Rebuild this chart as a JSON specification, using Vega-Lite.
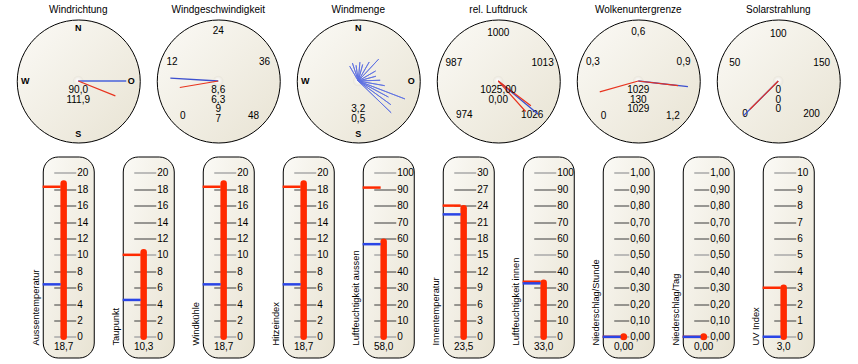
{
"$schema":"https://vega.github.io/schema/vega-lite/v6.json",
"background":"white",
"padding":{"left":15.5,"top":3.5,"right":19.5,"bottom":5},
"spacing":12,"center":true,
"vconcat":[
{"hconcat":[
{"title":"Windrichtung","width":123,"height":123,
 "view":{"cornerRadius":61.5,"stroke":"black","strokeWidth":1,"fill":{"gradient":"linear","x1":0,"y1":0,"x2":1,"y2":1,"stops":[{"offset":0,"color":"#fbfaf6"},{"offset":1,"color":"#e8e3d3"}]}},
 "layer":[
  {"data":{"name":"dials"},"transform":[{"filter":"datum.gauge == 'Windrichtung'"}],
   "mark":{"type":"circle","size":110,"opacity":1,"fill":{"gradient":"radial","x1":0.45,"y1":0.45,"r1":0,"x2":0.5,"y2":0.5,"r2":0.5,"stops":[{"offset":0,"color":"#ffffff"},{"offset":1,"color":"#e9e5da"}]},"strokeWidth":0}},
  {"data":{"name":"scale"},"transform":[{"filter":"datum.gauge == 'Windrichtung'"}],
   "mark":{"type":"text","radius":53,"fontSize":9,"fontWeight":"bold"},
   "encoding":{"theta":{"field":"v","type":"quantitative","stack":null,"scale":{"domain":[0,360],"range":[0,6.28319]}},"text":{"field":"label","type":"nominal"}}},
  {"data":{"name":"needles"},"transform":[{"filter":"datum.gauge == 'Windrichtung' && datum.kind == 'aktuell'"}],
   "mark":{"type":"arc","radius":48,"radius2":0,"filled":false,"stroke":"#4a63dc","strokeWidth":1.6},
   "encoding":{"theta":{"field":"value","type":"quantitative","stack":null,"scale":{"domain":[0,360],"range":[0,6.28319]}},"theta2":{"field":"value"}}},
  {"data":{"name":"needles"},"transform":[{"filter":"datum.gauge == 'Windrichtung' && datum.kind == 'mittel'"}],
   "mark":{"type":"arc","radius":40,"radius2":0,"filled":false,"stroke":"#e8331e","strokeWidth":1.2},
   "encoding":{"theta":{"field":"value","type":"quantitative","stack":null,"scale":{"domain":[0,360],"range":[0,6.28319]}},"theta2":{"field":"value"}}},
  {"data":{"name":"readouts"},"transform":[{"filter":"datum.gauge == 'Windrichtung'"}],
   "mark":{"type":"text","fontSize":10},
   "encoding":{"y":{"field":"line","type":"quantitative","scale":{"domain":[-6.27,6.41],"reverse":true,"nice":false,"zero":false},"axis":null},"text":{"field":"text","type":"nominal"}}}
 ]},
{"title":"Windgeschwindigkeit","width":123,"height":123,
 "view":{"cornerRadius":61.5,"stroke":"black","strokeWidth":1,"fill":{"gradient":"linear","x1":0,"y1":0,"x2":1,"y2":1,"stops":[{"offset":0,"color":"#fbfaf6"},{"offset":1,"color":"#e8e3d3"}]}},
 "layer":[
  {"data":{"name":"dials"},"transform":[{"filter":"datum.gauge == 'Windgeschwindigkeit'"}],
   "mark":{"type":"circle","size":110,"opacity":1,"fill":{"gradient":"radial","x1":0.45,"y1":0.45,"r1":0,"x2":0.5,"y2":0.5,"r2":0.5,"stops":[{"offset":0,"color":"#ffffff"},{"offset":1,"color":"#e9e5da"}]},"strokeWidth":0}},
  {"data":{"name":"scale"},"transform":[{"filter":"datum.gauge == 'Windgeschwindigkeit'"}],
   "mark":{"type":"text","radius":50,"fontSize":10},
   "encoding":{"theta":{"field":"v","type":"quantitative","stack":null,"scale":{"domain":[0,48],"range":[-2.35619,2.35619]}},"text":{"field":"label","type":"nominal"}}},
  {"data":{"name":"needles"},"transform":[{"filter":"datum.gauge == 'Windgeschwindigkeit' && datum.kind == 'aktuell'"}],
   "mark":{"type":"arc","radius":48,"radius2":0,"filled":false,"stroke":"#3d50cf","strokeWidth":1.3},
   "encoding":{"theta":{"field":"value","type":"quantitative","stack":null,"scale":{"domain":[0,48],"range":[-2.35619,2.35619]}},"theta2":{"field":"value"}}},
  {"data":{"name":"needles"},"transform":[{"filter":"datum.gauge == 'Windgeschwindigkeit' && datum.kind == 'mittel'"}],
   "mark":{"type":"arc","radius":39,"radius2":0,"filled":false,"stroke":"#e8331e","strokeWidth":1.2},
   "encoding":{"theta":{"field":"value","type":"quantitative","stack":null,"scale":{"domain":[0,48],"range":[-2.35619,2.35619]}},"theta2":{"field":"value"}}},
  {"data":{"name":"readouts"},"transform":[{"filter":"datum.gauge == 'Windgeschwindigkeit'"}],
   "mark":{"type":"text","fontSize":10},
   "encoding":{"y":{"field":"line","type":"quantitative","scale":{"domain":[-6.27,6.41],"reverse":true,"nice":false,"zero":false},"axis":null},"text":{"field":"text","type":"nominal"}}}
 ]},
{"title":"Windmenge","width":123,"height":123,
 "view":{"cornerRadius":61.5,"stroke":"black","strokeWidth":1,"fill":{"gradient":"linear","x1":0,"y1":0,"x2":1,"y2":1,"stops":[{"offset":0,"color":"#fbfaf6"},{"offset":1,"color":"#e8e3d3"}]}},
 "layer":[
  {"data":{"name":"dials"},"transform":[{"filter":"datum.gauge == 'Windmenge'"}],
   "mark":{"type":"circle","size":110,"opacity":1,"fill":{"gradient":"radial","x1":0.45,"y1":0.45,"r1":0,"x2":0.5,"y2":0.5,"r2":0.5,"stops":[{"offset":0,"color":"#ffffff"},{"offset":1,"color":"#e9e5da"}]},"strokeWidth":0}},
  {"data":{"name":"scale"},"transform":[{"filter":"datum.gauge == 'Windmenge'"}],
   "mark":{"type":"text","radius":53,"fontSize":9,"fontWeight":"bold"},
   "encoding":{"theta":{"field":"v","type":"quantitative","stack":null,"scale":{"domain":[0,360],"range":[0,6.28319]}},"text":{"field":"label","type":"nominal"}}},
  {"data":{"name":"windrose"},
   "mark":{"type":"arc","radius2":0,"filled":false,"stroke":"#5d70e2","strokeWidth":1,"strokeOpacity":0.85},
   "encoding":{"theta":{"field":"dir","type":"quantitative","stack":null,"scale":{"domain":[0,360],"range":[0,6.28319]}},"theta2":{"field":"dir"},"radius":{"field":"amount","type":"quantitative","scale":{"type":"linear","domain":[0,100],"range":[0,61],"zero":true}}}},
  {"data":{"name":"readouts"},"transform":[{"filter":"datum.gauge == 'Windmenge'"}],
   "mark":{"type":"text","fontSize":10},
   "encoding":{"y":{"field":"line","type":"quantitative","scale":{"domain":[-6.27,6.41],"reverse":true,"nice":false,"zero":false},"axis":null},"text":{"field":"text","type":"nominal"}}}
 ]},
{"title":"rel. Luftdruck","width":123,"height":123,
 "view":{"cornerRadius":61.5,"stroke":"black","strokeWidth":1,"fill":{"gradient":"linear","x1":0,"y1":0,"x2":1,"y2":1,"stops":[{"offset":0,"color":"#fbfaf6"},{"offset":1,"color":"#e8e3d3"}]}},
 "layer":[
  {"data":{"name":"dials"},"transform":[{"filter":"datum.gauge == 'rel. Luftdruck'"}],
   "mark":{"type":"circle","size":110,"opacity":1,"fill":{"gradient":"radial","x1":0.45,"y1":0.45,"r1":0,"x2":0.5,"y2":0.5,"r2":0.5,"stops":[{"offset":0,"color":"#ffffff"},{"offset":1,"color":"#e9e5da"}]},"strokeWidth":0}},
  {"data":{"name":"scale"},"transform":[{"filter":"datum.gauge == 'rel. Luftdruck'"}],
   "mark":{"type":"text","radius":48,"fontSize":10},
   "encoding":{"theta":{"field":"v","type":"quantitative","stack":null,"scale":{"domain":[974,1026],"range":[-2.35619,2.35619]}},"text":{"field":"label","type":"nominal"}}},
  {"data":{"name":"needles"},"transform":[{"filter":"datum.gauge == 'rel. Luftdruck' && datum.kind == 'aktuell'"}],
   "mark":{"type":"arc","radius":52,"radius2":0,"filled":false,"stroke":"#3d50cf","strokeWidth":1.3},
   "encoding":{"theta":{"field":"value","type":"quantitative","stack":null,"scale":{"domain":[974,1026],"range":[-2.35619,2.35619]}},"theta2":{"field":"value"}}},
  {"data":{"name":"needles"},"transform":[{"filter":"datum.gauge == 'rel. Luftdruck' && datum.kind == 'mittel'"}],
   "mark":{"type":"arc","radius":41,"radius2":0,"filled":false,"stroke":"#e8331e","strokeWidth":1.2},
   "encoding":{"theta":{"field":"value","type":"quantitative","stack":null,"scale":{"domain":[974,1026],"range":[-2.35619,2.35619]}},"theta2":{"field":"value"}}},
  {"data":{"name":"readouts"},"transform":[{"filter":"datum.gauge == 'rel. Luftdruck'"}],
   "mark":{"type":"text","fontSize":10},
   "encoding":{"y":{"field":"line","type":"quantitative","scale":{"domain":[-6.27,6.41],"reverse":true,"nice":false,"zero":false},"axis":null},"text":{"field":"text","type":"nominal"}}}
 ]},
{"title":"Wolkenuntergrenze","width":123,"height":123,
 "view":{"cornerRadius":61.5,"stroke":"black","strokeWidth":1,"fill":{"gradient":"linear","x1":0,"y1":0,"x2":1,"y2":1,"stops":[{"offset":0,"color":"#fbfaf6"},{"offset":1,"color":"#e8e3d3"}]}},
 "layer":[
  {"data":{"name":"dials"},"transform":[{"filter":"datum.gauge == 'Wolkenuntergrenze'"}],
   "mark":{"type":"circle","size":110,"opacity":1,"fill":{"gradient":"radial","x1":0.45,"y1":0.45,"r1":0,"x2":0.5,"y2":0.5,"r2":0.5,"stops":[{"offset":0,"color":"#ffffff"},{"offset":1,"color":"#e9e5da"}]},"strokeWidth":0}},
  {"data":{"name":"scale"},"transform":[{"filter":"datum.gauge == 'Wolkenuntergrenze'"}],
   "mark":{"type":"text","radius":49,"fontSize":10},
   "encoding":{"theta":{"field":"v","type":"quantitative","stack":null,"scale":{"domain":[0,1.2],"range":[-2.35619,2.35619]}},"text":{"field":"label","type":"nominal"}}},
  {"data":{"name":"needles"},"transform":[{"filter":"datum.gauge == 'Wolkenuntergrenze' && datum.kind == 'aktuell'"}],
   "mark":{"type":"arc","radius":50,"radius2":0,"filled":false,"stroke":"#3d50cf","strokeWidth":1.3},
   "encoding":{"theta":{"field":"value","type":"quantitative","stack":null,"scale":{"domain":[0,1.2],"range":[-2.35619,2.35619]}},"theta2":{"field":"value"}}},
  {"data":{"name":"needles"},"transform":[{"filter":"datum.gauge == 'Wolkenuntergrenze' && datum.kind == 'mittel'"}],
   "mark":{"type":"arc","radius":40,"radius2":0,"filled":false,"stroke":"#e8331e","strokeWidth":1.2},
   "encoding":{"theta":{"field":"value","type":"quantitative","stack":null,"scale":{"domain":[0,1.2],"range":[-2.35619,2.35619]}},"theta2":{"field":"value"}}},
  {"data":{"name":"readouts"},"transform":[{"filter":"datum.gauge == 'Wolkenuntergrenze'"}],
   "mark":{"type":"text","fontSize":10},
   "encoding":{"y":{"field":"line","type":"quantitative","scale":{"domain":[-6.27,6.41],"reverse":true,"nice":false,"zero":false},"axis":null},"text":{"field":"text","type":"nominal"}}}
 ]},
{"title":"Solarstrahlung","width":123,"height":123,
 "view":{"cornerRadius":61.5,"stroke":"black","strokeWidth":1,"fill":{"gradient":"linear","x1":0,"y1":0,"x2":1,"y2":1,"stops":[{"offset":0,"color":"#fbfaf6"},{"offset":1,"color":"#e8e3d3"}]}},
 "layer":[
  {"data":{"name":"dials"},"transform":[{"filter":"datum.gauge == 'Solarstrahlung'"}],
   "mark":{"type":"circle","size":110,"opacity":1,"fill":{"gradient":"radial","x1":0.45,"y1":0.45,"r1":0,"x2":0.5,"y2":0.5,"r2":0.5,"stops":[{"offset":0,"color":"#ffffff"},{"offset":1,"color":"#e9e5da"}]},"strokeWidth":0}},
  {"data":{"name":"scale"},"transform":[{"filter":"datum.gauge == 'Solarstrahlung'"}],
   "mark":{"type":"text","radius":47,"fontSize":10},
   "encoding":{"theta":{"field":"v","type":"quantitative","stack":null,"scale":{"domain":[0,200],"range":[-2.35619,2.35619]}},"text":{"field":"label","type":"nominal"}}},
  {"data":{"name":"needles"},"transform":[{"filter":"datum.gauge == 'Solarstrahlung' && datum.kind == 'aktuell'"}],
   "mark":{"type":"arc","radius":49,"radius2":0,"filled":false,"stroke":"#3d50cf","strokeWidth":1.3},
   "encoding":{"theta":{"field":"value","type":"quantitative","stack":null,"scale":{"domain":[0,200],"range":[-2.35619,2.35619]}},"theta2":{"field":"value"}}},
  {"data":{"name":"needles"},"transform":[{"filter":"datum.gauge == 'Solarstrahlung' && datum.kind == 'mittel'"}],
   "mark":{"type":"arc","radius":40,"radius2":0,"filled":false,"stroke":"#e8331e","strokeWidth":1.2},
   "encoding":{"theta":{"field":"value","type":"quantitative","stack":null,"scale":{"domain":[0,200],"range":[-2.35619,2.35619]}},"theta2":{"field":"value"}}},
  {"data":{"name":"readouts"},"transform":[{"filter":"datum.gauge == 'Solarstrahlung'"}],
   "mark":{"type":"text","fontSize":10},
   "encoding":{"y":{"field":"line","type":"quantitative","scale":{"domain":[-6.27,6.41],"reverse":true,"nice":false,"zero":false},"axis":null},"text":{"field":"text","type":"nominal"}}}
 ]}
],"spacing":17,"bounds":"flush"},
{"hconcat":[
{"width":51,"height":201,
 "view":{"cornerRadius":15,"stroke":"black","strokeWidth":1,"fill":{"gradient":"linear","x1":0,"y1":0,"x2":1,"y2":1,"stops":[{"offset":0,"color":"#fbfaf6"},{"offset":1,"color":"#e8e3d3"}]}},
 "data":{"name":"thermo"},"transform":[{"filter":"datum.name == 'Aussentemperatur'"}],
 "encoding":{"x":{"field":"name","type":"nominal","scale":{"type":"point","align":0.41},"axis":null}},
 "layer":[
  {"mark":{"type":"rule","color":"#ff2a00","strokeWidth":6.5,"strokeCap":"round"},
   "encoding":{"y":{"field":"value","type":"quantitative","scale":{"domain":[-2.52,21.99],"nice":false},"axis":{"orient":"right","title":null,"values":[0,2,4,6,8,10,12,14,16,18,20],"format":"d","offset":-40,"tickSize":22,"labelPadding":1,"labelOverlap":false,"tickColor":{"condition":{"test":"datum.value == 0 || datum.value == 10 || datum.value == 20","value":"#a8a8a8"},"value":"#3a3a3a"},"tickWidth":{"condition":{"test":"datum.value == 0 || datum.value == 10 || datum.value == 20","value":1.5},"value":1}}}}},
  {"transform":[{"fold":["max","min"],"as":["kind","level"]}],
   "mark":{"type":"tick","opacity":1,"size":18,"thickness":2.5,"xOffset":-12},
   "encoding":{"y":{"field":"level","type":"quantitative","axis":{"orient":"right","title":null,"values":[0,2,4,6,8,10,12,14,16,18,20],"format":"d","offset":-40,"tickSize":22,"labelPadding":1,"labelOverlap":false,"tickColor":{"condition":{"test":"datum.value == 0 || datum.value == 10 || datum.value == 20","value":"#a8a8a8"},"value":"#3a3a3a"},"tickWidth":{"condition":{"test":"datum.value == 0 || datum.value == 10 || datum.value == 20","value":1.5},"value":1}}},
    "color":{"field":"kind","type":"nominal","scale":{"domain":["max","min"],"range":["#ff2a00","#2a45e6"]},"legend":null}}},
  {"mark":{"type":"text","fontSize":10},"encoding":{"y":{"datum":-1.24,"axis":{"orient":"right","title":null,"values":[0,2,4,6,8,10,12,14,16,18,20],"format":"d","offset":-40,"tickSize":22,"labelPadding":1,"labelOverlap":false,"tickColor":{"condition":{"test":"datum.value == 0 || datum.value == 10 || datum.value == 20","value":"#a8a8a8"},"value":"#3a3a3a"},"tickWidth":{"condition":{"test":"datum.value == 0 || datum.value == 10 || datum.value == 20","value":1.5},"value":1}}},"text":{"field":"value","type":"quantitative","format":".1f"}}},
  {"mark":{"type":"text","fontSize":9.3,"angle":270,"align":"left","baseline":"bottom","xOffset":-22.9,"yOffset":8.7},"encoding":{"y":{"datum":0,"axis":{"orient":"right","title":null,"values":[0,2,4,6,8,10,12,14,16,18,20],"format":"d","offset":-40,"tickSize":22,"labelPadding":1,"labelOverlap":false,"tickColor":{"condition":{"test":"datum.value == 0 || datum.value == 10 || datum.value == 20","value":"#a8a8a8"},"value":"#3a3a3a"},"tickWidth":{"condition":{"test":"datum.value == 0 || datum.value == 10 || datum.value == 20","value":1.5},"value":1}}},"text":{"field":"name","type":"nominal"}}}
 ]},
{"width":51,"height":201,
 "view":{"cornerRadius":15,"stroke":"black","strokeWidth":1,"fill":{"gradient":"linear","x1":0,"y1":0,"x2":1,"y2":1,"stops":[{"offset":0,"color":"#fbfaf6"},{"offset":1,"color":"#e8e3d3"}]}},
 "data":{"name":"thermo"},"transform":[{"filter":"datum.name == 'Taupunkt'"}],
 "encoding":{"x":{"field":"name","type":"nominal","scale":{"type":"point","align":0.41},"axis":null}},
 "layer":[
  {"mark":{"type":"rule","color":"#ff2a00","strokeWidth":6.5,"strokeCap":"round"},
   "encoding":{"y":{"field":"value","type":"quantitative","scale":{"domain":[-2.52,21.99],"nice":false},"axis":{"orient":"right","title":null,"values":[0,2,4,6,8,10,12,14,16,18,20],"format":"d","offset":-40,"tickSize":22,"labelPadding":1,"labelOverlap":false,"tickColor":{"condition":{"test":"datum.value == 0 || datum.value == 10 || datum.value == 20","value":"#a8a8a8"},"value":"#3a3a3a"},"tickWidth":{"condition":{"test":"datum.value == 0 || datum.value == 10 || datum.value == 20","value":1.5},"value":1}}}}},
  {"transform":[{"fold":["max","min"],"as":["kind","level"]}],
   "mark":{"type":"tick","opacity":1,"size":18,"thickness":2.5,"xOffset":-12},
   "encoding":{"y":{"field":"level","type":"quantitative","axis":{"orient":"right","title":null,"values":[0,2,4,6,8,10,12,14,16,18,20],"format":"d","offset":-40,"tickSize":22,"labelPadding":1,"labelOverlap":false,"tickColor":{"condition":{"test":"datum.value == 0 || datum.value == 10 || datum.value == 20","value":"#a8a8a8"},"value":"#3a3a3a"},"tickWidth":{"condition":{"test":"datum.value == 0 || datum.value == 10 || datum.value == 20","value":1.5},"value":1}}},
    "color":{"field":"kind","type":"nominal","scale":{"domain":["max","min"],"range":["#ff2a00","#2a45e6"]},"legend":null}}},
  {"mark":{"type":"text","fontSize":10},"encoding":{"y":{"datum":-1.24,"axis":{"orient":"right","title":null,"values":[0,2,4,6,8,10,12,14,16,18,20],"format":"d","offset":-40,"tickSize":22,"labelPadding":1,"labelOverlap":false,"tickColor":{"condition":{"test":"datum.value == 0 || datum.value == 10 || datum.value == 20","value":"#a8a8a8"},"value":"#3a3a3a"},"tickWidth":{"condition":{"test":"datum.value == 0 || datum.value == 10 || datum.value == 20","value":1.5},"value":1}}},"text":{"field":"value","type":"quantitative","format":".1f"}}},
  {"mark":{"type":"text","fontSize":9.3,"angle":270,"align":"left","baseline":"bottom","xOffset":-22.9,"yOffset":8.7},"encoding":{"y":{"datum":0,"axis":{"orient":"right","title":null,"values":[0,2,4,6,8,10,12,14,16,18,20],"format":"d","offset":-40,"tickSize":22,"labelPadding":1,"labelOverlap":false,"tickColor":{"condition":{"test":"datum.value == 0 || datum.value == 10 || datum.value == 20","value":"#a8a8a8"},"value":"#3a3a3a"},"tickWidth":{"condition":{"test":"datum.value == 0 || datum.value == 10 || datum.value == 20","value":1.5},"value":1}}},"text":{"field":"name","type":"nominal"}}}
 ]},
{"width":51,"height":201,
 "view":{"cornerRadius":15,"stroke":"black","strokeWidth":1,"fill":{"gradient":"linear","x1":0,"y1":0,"x2":1,"y2":1,"stops":[{"offset":0,"color":"#fbfaf6"},{"offset":1,"color":"#e8e3d3"}]}},
 "data":{"name":"thermo"},"transform":[{"filter":"datum.name == 'Windkühle'"}],
 "encoding":{"x":{"field":"name","type":"nominal","scale":{"type":"point","align":0.41},"axis":null}},
 "layer":[
  {"mark":{"type":"rule","color":"#ff2a00","strokeWidth":6.5,"strokeCap":"round"},
   "encoding":{"y":{"field":"value","type":"quantitative","scale":{"domain":[-2.52,21.99],"nice":false},"axis":{"orient":"right","title":null,"values":[0,2,4,6,8,10,12,14,16,18,20],"format":"d","offset":-40,"tickSize":22,"labelPadding":1,"labelOverlap":false,"tickColor":{"condition":{"test":"datum.value == 0 || datum.value == 10 || datum.value == 20","value":"#a8a8a8"},"value":"#3a3a3a"},"tickWidth":{"condition":{"test":"datum.value == 0 || datum.value == 10 || datum.value == 20","value":1.5},"value":1}}}}},
  {"transform":[{"fold":["max","min"],"as":["kind","level"]}],
   "mark":{"type":"tick","opacity":1,"size":18,"thickness":2.5,"xOffset":-12},
   "encoding":{"y":{"field":"level","type":"quantitative","axis":{"orient":"right","title":null,"values":[0,2,4,6,8,10,12,14,16,18,20],"format":"d","offset":-40,"tickSize":22,"labelPadding":1,"labelOverlap":false,"tickColor":{"condition":{"test":"datum.value == 0 || datum.value == 10 || datum.value == 20","value":"#a8a8a8"},"value":"#3a3a3a"},"tickWidth":{"condition":{"test":"datum.value == 0 || datum.value == 10 || datum.value == 20","value":1.5},"value":1}}},
    "color":{"field":"kind","type":"nominal","scale":{"domain":["max","min"],"range":["#ff2a00","#2a45e6"]},"legend":null}}},
  {"mark":{"type":"text","fontSize":10},"encoding":{"y":{"datum":-1.24,"axis":{"orient":"right","title":null,"values":[0,2,4,6,8,10,12,14,16,18,20],"format":"d","offset":-40,"tickSize":22,"labelPadding":1,"labelOverlap":false,"tickColor":{"condition":{"test":"datum.value == 0 || datum.value == 10 || datum.value == 20","value":"#a8a8a8"},"value":"#3a3a3a"},"tickWidth":{"condition":{"test":"datum.value == 0 || datum.value == 10 || datum.value == 20","value":1.5},"value":1}}},"text":{"field":"value","type":"quantitative","format":".1f"}}},
  {"mark":{"type":"text","fontSize":9.3,"angle":270,"align":"left","baseline":"bottom","xOffset":-22.9,"yOffset":8.7},"encoding":{"y":{"datum":0,"axis":{"orient":"right","title":null,"values":[0,2,4,6,8,10,12,14,16,18,20],"format":"d","offset":-40,"tickSize":22,"labelPadding":1,"labelOverlap":false,"tickColor":{"condition":{"test":"datum.value == 0 || datum.value == 10 || datum.value == 20","value":"#a8a8a8"},"value":"#3a3a3a"},"tickWidth":{"condition":{"test":"datum.value == 0 || datum.value == 10 || datum.value == 20","value":1.5},"value":1}}},"text":{"field":"name","type":"nominal"}}}
 ]},
{"width":51,"height":201,
 "view":{"cornerRadius":15,"stroke":"black","strokeWidth":1,"fill":{"gradient":"linear","x1":0,"y1":0,"x2":1,"y2":1,"stops":[{"offset":0,"color":"#fbfaf6"},{"offset":1,"color":"#e8e3d3"}]}},
 "data":{"name":"thermo"},"transform":[{"filter":"datum.name == 'Hitzeindex'"}],
 "encoding":{"x":{"field":"name","type":"nominal","scale":{"type":"point","align":0.41},"axis":null}},
 "layer":[
  {"mark":{"type":"rule","color":"#ff2a00","strokeWidth":6.5,"strokeCap":"round"},
   "encoding":{"y":{"field":"value","type":"quantitative","scale":{"domain":[-2.52,21.99],"nice":false},"axis":{"orient":"right","title":null,"values":[0,2,4,6,8,10,12,14,16,18,20],"format":"d","offset":-40,"tickSize":22,"labelPadding":1,"labelOverlap":false,"tickColor":{"condition":{"test":"datum.value == 0 || datum.value == 10 || datum.value == 20","value":"#a8a8a8"},"value":"#3a3a3a"},"tickWidth":{"condition":{"test":"datum.value == 0 || datum.value == 10 || datum.value == 20","value":1.5},"value":1}}}}},
  {"transform":[{"fold":["max","min"],"as":["kind","level"]}],
   "mark":{"type":"tick","opacity":1,"size":18,"thickness":2.5,"xOffset":-12},
   "encoding":{"y":{"field":"level","type":"quantitative","axis":{"orient":"right","title":null,"values":[0,2,4,6,8,10,12,14,16,18,20],"format":"d","offset":-40,"tickSize":22,"labelPadding":1,"labelOverlap":false,"tickColor":{"condition":{"test":"datum.value == 0 || datum.value == 10 || datum.value == 20","value":"#a8a8a8"},"value":"#3a3a3a"},"tickWidth":{"condition":{"test":"datum.value == 0 || datum.value == 10 || datum.value == 20","value":1.5},"value":1}}},
    "color":{"field":"kind","type":"nominal","scale":{"domain":["max","min"],"range":["#ff2a00","#2a45e6"]},"legend":null}}},
  {"mark":{"type":"text","fontSize":10},"encoding":{"y":{"datum":-1.24,"axis":{"orient":"right","title":null,"values":[0,2,4,6,8,10,12,14,16,18,20],"format":"d","offset":-40,"tickSize":22,"labelPadding":1,"labelOverlap":false,"tickColor":{"condition":{"test":"datum.value == 0 || datum.value == 10 || datum.value == 20","value":"#a8a8a8"},"value":"#3a3a3a"},"tickWidth":{"condition":{"test":"datum.value == 0 || datum.value == 10 || datum.value == 20","value":1.5},"value":1}}},"text":{"field":"value","type":"quantitative","format":".1f"}}},
  {"mark":{"type":"text","fontSize":9.3,"angle":270,"align":"left","baseline":"bottom","xOffset":-22.9,"yOffset":8.7},"encoding":{"y":{"datum":0,"axis":{"orient":"right","title":null,"values":[0,2,4,6,8,10,12,14,16,18,20],"format":"d","offset":-40,"tickSize":22,"labelPadding":1,"labelOverlap":false,"tickColor":{"condition":{"test":"datum.value == 0 || datum.value == 10 || datum.value == 20","value":"#a8a8a8"},"value":"#3a3a3a"},"tickWidth":{"condition":{"test":"datum.value == 0 || datum.value == 10 || datum.value == 20","value":1.5},"value":1}}},"text":{"field":"name","type":"nominal"}}}
 ]},
{"width":51,"height":201,
 "view":{"cornerRadius":15,"stroke":"black","strokeWidth":1,"fill":{"gradient":"linear","x1":0,"y1":0,"x2":1,"y2":1,"stops":[{"offset":0,"color":"#fbfaf6"},{"offset":1,"color":"#e8e3d3"}]}},
 "data":{"name":"thermo"},"transform":[{"filter":"datum.name == 'Luftfeuchtigkeit aussen'"}],
 "encoding":{"x":{"field":"name","type":"nominal","scale":{"type":"point","align":0.41},"axis":null}},
 "layer":[
  {"mark":{"type":"rule","color":"#ff2a00","strokeWidth":6.5,"strokeCap":"round"},
   "encoding":{"y":{"field":"value","type":"quantitative","scale":{"domain":[-12.6,109.95],"nice":false},"axis":{"orient":"right","title":null,"values":[0,10,20,30,40,50,60,70,80,90,100],"format":"d","offset":-40,"tickSize":22,"labelPadding":1,"labelOverlap":false,"tickColor":{"condition":{"test":"datum.value == 0 || datum.value == 50 || datum.value == 100","value":"#a8a8a8"},"value":"#3a3a3a"},"tickWidth":{"condition":{"test":"datum.value == 0 || datum.value == 50 || datum.value == 100","value":1.5},"value":1}}}}},
  {"transform":[{"fold":["max","min"],"as":["kind","level"]}],
   "mark":{"type":"tick","opacity":1,"size":18,"thickness":2.5,"xOffset":-12},
   "encoding":{"y":{"field":"level","type":"quantitative","axis":{"orient":"right","title":null,"values":[0,10,20,30,40,50,60,70,80,90,100],"format":"d","offset":-40,"tickSize":22,"labelPadding":1,"labelOverlap":false,"tickColor":{"condition":{"test":"datum.value == 0 || datum.value == 50 || datum.value == 100","value":"#a8a8a8"},"value":"#3a3a3a"},"tickWidth":{"condition":{"test":"datum.value == 0 || datum.value == 50 || datum.value == 100","value":1.5},"value":1}}},
    "color":{"field":"kind","type":"nominal","scale":{"domain":["max","min"],"range":["#ff2a00","#2a45e6"]},"legend":null}}},
  {"mark":{"type":"text","fontSize":10},"encoding":{"y":{"datum":-6.2,"axis":{"orient":"right","title":null,"values":[0,10,20,30,40,50,60,70,80,90,100],"format":"d","offset":-40,"tickSize":22,"labelPadding":1,"labelOverlap":false,"tickColor":{"condition":{"test":"datum.value == 0 || datum.value == 50 || datum.value == 100","value":"#a8a8a8"},"value":"#3a3a3a"},"tickWidth":{"condition":{"test":"datum.value == 0 || datum.value == 50 || datum.value == 100","value":1.5},"value":1}}},"text":{"field":"value","type":"quantitative","format":".1f"}}},
  {"mark":{"type":"text","fontSize":9.3,"angle":270,"align":"left","baseline":"bottom","xOffset":-22.9,"yOffset":8.7},"encoding":{"y":{"datum":0,"axis":{"orient":"right","title":null,"values":[0,10,20,30,40,50,60,70,80,90,100],"format":"d","offset":-40,"tickSize":22,"labelPadding":1,"labelOverlap":false,"tickColor":{"condition":{"test":"datum.value == 0 || datum.value == 50 || datum.value == 100","value":"#a8a8a8"},"value":"#3a3a3a"},"tickWidth":{"condition":{"test":"datum.value == 0 || datum.value == 50 || datum.value == 100","value":1.5},"value":1}}},"text":{"field":"name","type":"nominal"}}}
 ]},
{"width":51,"height":201,
 "view":{"cornerRadius":15,"stroke":"black","strokeWidth":1,"fill":{"gradient":"linear","x1":0,"y1":0,"x2":1,"y2":1,"stops":[{"offset":0,"color":"#fbfaf6"},{"offset":1,"color":"#e8e3d3"}]}},
 "data":{"name":"thermo"},"transform":[{"filter":"datum.name == 'Innentemperatur'"}],
 "encoding":{"x":{"field":"name","type":"nominal","scale":{"type":"point","align":0.41},"axis":null}},
 "layer":[
  {"mark":{"type":"rule","color":"#ff2a00","strokeWidth":6.5,"strokeCap":"round"},
   "encoding":{"y":{"field":"value","type":"quantitative","scale":{"domain":[-3.78,32.985],"nice":false},"axis":{"orient":"right","title":null,"values":[0,3,6,9,12,15,18,21,24,27,30],"format":"d","offset":-40,"tickSize":22,"labelPadding":1,"labelOverlap":false,"tickColor":{"condition":{"test":"datum.value == 0 || datum.value == 15 || datum.value == 30","value":"#a8a8a8"},"value":"#3a3a3a"},"tickWidth":{"condition":{"test":"datum.value == 0 || datum.value == 15 || datum.value == 30","value":1.5},"value":1}}}}},
  {"transform":[{"fold":["max","min"],"as":["kind","level"]}],
   "mark":{"type":"tick","opacity":1,"size":18,"thickness":2.5,"xOffset":-12},
   "encoding":{"y":{"field":"level","type":"quantitative","axis":{"orient":"right","title":null,"values":[0,3,6,9,12,15,18,21,24,27,30],"format":"d","offset":-40,"tickSize":22,"labelPadding":1,"labelOverlap":false,"tickColor":{"condition":{"test":"datum.value == 0 || datum.value == 15 || datum.value == 30","value":"#a8a8a8"},"value":"#3a3a3a"},"tickWidth":{"condition":{"test":"datum.value == 0 || datum.value == 15 || datum.value == 30","value":1.5},"value":1}}},
    "color":{"field":"kind","type":"nominal","scale":{"domain":["max","min"],"range":["#ff2a00","#2a45e6"]},"legend":null}}},
  {"mark":{"type":"text","fontSize":10},"encoding":{"y":{"datum":-1.86,"axis":{"orient":"right","title":null,"values":[0,3,6,9,12,15,18,21,24,27,30],"format":"d","offset":-40,"tickSize":22,"labelPadding":1,"labelOverlap":false,"tickColor":{"condition":{"test":"datum.value == 0 || datum.value == 15 || datum.value == 30","value":"#a8a8a8"},"value":"#3a3a3a"},"tickWidth":{"condition":{"test":"datum.value == 0 || datum.value == 15 || datum.value == 30","value":1.5},"value":1}}},"text":{"field":"value","type":"quantitative","format":".1f"}}},
  {"mark":{"type":"text","fontSize":9.3,"angle":270,"align":"left","baseline":"bottom","xOffset":-22.9,"yOffset":8.7},"encoding":{"y":{"datum":0,"axis":{"orient":"right","title":null,"values":[0,3,6,9,12,15,18,21,24,27,30],"format":"d","offset":-40,"tickSize":22,"labelPadding":1,"labelOverlap":false,"tickColor":{"condition":{"test":"datum.value == 0 || datum.value == 15 || datum.value == 30","value":"#a8a8a8"},"value":"#3a3a3a"},"tickWidth":{"condition":{"test":"datum.value == 0 || datum.value == 15 || datum.value == 30","value":1.5},"value":1}}},"text":{"field":"name","type":"nominal"}}}
 ]},
{"width":51,"height":201,
 "view":{"cornerRadius":15,"stroke":"black","strokeWidth":1,"fill":{"gradient":"linear","x1":0,"y1":0,"x2":1,"y2":1,"stops":[{"offset":0,"color":"#fbfaf6"},{"offset":1,"color":"#e8e3d3"}]}},
 "data":{"name":"thermo"},"transform":[{"filter":"datum.name == 'Luftfeuchtigkeit innen'"}],
 "encoding":{"x":{"field":"name","type":"nominal","scale":{"type":"point","align":0.41},"axis":null}},
 "layer":[
  {"mark":{"type":"rule","color":"#ff2a00","strokeWidth":6.5,"strokeCap":"round"},
   "encoding":{"y":{"field":"value","type":"quantitative","scale":{"domain":[-12.6,109.95],"nice":false},"axis":{"orient":"right","title":null,"values":[0,10,20,30,40,50,60,70,80,90,100],"format":"d","offset":-40,"tickSize":22,"labelPadding":1,"labelOverlap":false,"tickColor":{"condition":{"test":"datum.value == 0 || datum.value == 50 || datum.value == 100","value":"#a8a8a8"},"value":"#3a3a3a"},"tickWidth":{"condition":{"test":"datum.value == 0 || datum.value == 50 || datum.value == 100","value":1.5},"value":1}}}}},
  {"transform":[{"fold":["max","min"],"as":["kind","level"]}],
   "mark":{"type":"tick","opacity":1,"size":18,"thickness":2.5,"xOffset":-12},
   "encoding":{"y":{"field":"level","type":"quantitative","axis":{"orient":"right","title":null,"values":[0,10,20,30,40,50,60,70,80,90,100],"format":"d","offset":-40,"tickSize":22,"labelPadding":1,"labelOverlap":false,"tickColor":{"condition":{"test":"datum.value == 0 || datum.value == 50 || datum.value == 100","value":"#a8a8a8"},"value":"#3a3a3a"},"tickWidth":{"condition":{"test":"datum.value == 0 || datum.value == 50 || datum.value == 100","value":1.5},"value":1}}},
    "color":{"field":"kind","type":"nominal","scale":{"domain":["max","min"],"range":["#ff2a00","#2a45e6"]},"legend":null}}},
  {"mark":{"type":"text","fontSize":10},"encoding":{"y":{"datum":-6.2,"axis":{"orient":"right","title":null,"values":[0,10,20,30,40,50,60,70,80,90,100],"format":"d","offset":-40,"tickSize":22,"labelPadding":1,"labelOverlap":false,"tickColor":{"condition":{"test":"datum.value == 0 || datum.value == 50 || datum.value == 100","value":"#a8a8a8"},"value":"#3a3a3a"},"tickWidth":{"condition":{"test":"datum.value == 0 || datum.value == 50 || datum.value == 100","value":1.5},"value":1}}},"text":{"field":"value","type":"quantitative","format":".1f"}}},
  {"mark":{"type":"text","fontSize":9.3,"angle":270,"align":"left","baseline":"bottom","xOffset":-22.9,"yOffset":8.7},"encoding":{"y":{"datum":0,"axis":{"orient":"right","title":null,"values":[0,10,20,30,40,50,60,70,80,90,100],"format":"d","offset":-40,"tickSize":22,"labelPadding":1,"labelOverlap":false,"tickColor":{"condition":{"test":"datum.value == 0 || datum.value == 50 || datum.value == 100","value":"#a8a8a8"},"value":"#3a3a3a"},"tickWidth":{"condition":{"test":"datum.value == 0 || datum.value == 50 || datum.value == 100","value":1.5},"value":1}}},"text":{"field":"name","type":"nominal"}}}
 ]},
{"width":51,"height":201,
 "view":{"cornerRadius":15,"stroke":"black","strokeWidth":1,"fill":{"gradient":"linear","x1":0,"y1":0,"x2":1,"y2":1,"stops":[{"offset":0,"color":"#fbfaf6"},{"offset":1,"color":"#e8e3d3"}]}},
 "data":{"name":"thermo"},"transform":[{"filter":"datum.name == 'Niederschlag/Stunde'"}],
 "encoding":{"x":{"field":"name","type":"nominal","scale":{"type":"point","align":0.41},"axis":null}},
 "layer":[
  {"mark":{"type":"rule","color":"#ff2a00","strokeWidth":7,"strokeCap":"round"},
   "encoding":{"y":{"field":"value","type":"quantitative","scale":{"domain":[-0.126,1.0995],"nice":false},"axis":{"orient":"right","title":null,"values":[0,0.1,0.2,0.3,0.4,0.5,0.6,0.7,0.8,0.9,1],"format":".2f","offset":-40,"tickSize":15,"labelPadding":1,"labelOverlap":false,"tickColor":{"condition":{"test":"datum.value == 0 || datum.value == 0.5 || datum.value == 1","value":"#a8a8a8"},"value":"#3a3a3a"},"tickWidth":{"condition":{"test":"datum.value == 0 || datum.value == 0.5 || datum.value == 1","value":1.5},"value":1}}}}},
  {"transform":[{"fold":["max","min"],"as":["kind","level"]}],
   "mark":{"type":"tick","opacity":1,"size":18,"thickness":2.5,"xOffset":-12},
   "encoding":{"y":{"field":"level","type":"quantitative","axis":{"orient":"right","title":null,"values":[0,0.1,0.2,0.3,0.4,0.5,0.6,0.7,0.8,0.9,1],"format":".2f","offset":-40,"tickSize":15,"labelPadding":1,"labelOverlap":false,"tickColor":{"condition":{"test":"datum.value == 0 || datum.value == 0.5 || datum.value == 1","value":"#a8a8a8"},"value":"#3a3a3a"},"tickWidth":{"condition":{"test":"datum.value == 0 || datum.value == 0.5 || datum.value == 1","value":1.5},"value":1}}},
    "color":{"field":"kind","type":"nominal","scale":{"domain":["max","min"],"range":["#ff2a00","#2a45e6"]},"legend":null}}},
  {"mark":{"type":"text","fontSize":10},"encoding":{"y":{"datum":-0.062,"axis":{"orient":"right","title":null,"values":[0,0.1,0.2,0.3,0.4,0.5,0.6,0.7,0.8,0.9,1],"format":".2f","offset":-40,"tickSize":15,"labelPadding":1,"labelOverlap":false,"tickColor":{"condition":{"test":"datum.value == 0 || datum.value == 0.5 || datum.value == 1","value":"#a8a8a8"},"value":"#3a3a3a"},"tickWidth":{"condition":{"test":"datum.value == 0 || datum.value == 0.5 || datum.value == 1","value":1.5},"value":1}}},"text":{"field":"value","type":"quantitative","format":".2f"}}},
  {"mark":{"type":"text","fontSize":9.3,"angle":270,"align":"left","baseline":"bottom","xOffset":-22.9,"yOffset":8.7},"encoding":{"y":{"datum":0,"axis":{"orient":"right","title":null,"values":[0,0.1,0.2,0.3,0.4,0.5,0.6,0.7,0.8,0.9,1],"format":".2f","offset":-40,"tickSize":15,"labelPadding":1,"labelOverlap":false,"tickColor":{"condition":{"test":"datum.value == 0 || datum.value == 0.5 || datum.value == 1","value":"#a8a8a8"},"value":"#3a3a3a"},"tickWidth":{"condition":{"test":"datum.value == 0 || datum.value == 0.5 || datum.value == 1","value":1.5},"value":1}}},"text":{"field":"name","type":"nominal"}}}
 ]},
{"width":51,"height":201,
 "view":{"cornerRadius":15,"stroke":"black","strokeWidth":1,"fill":{"gradient":"linear","x1":0,"y1":0,"x2":1,"y2":1,"stops":[{"offset":0,"color":"#fbfaf6"},{"offset":1,"color":"#e8e3d3"}]}},
 "data":{"name":"thermo"},"transform":[{"filter":"datum.name == 'Niederschlag/Tag'"}],
 "encoding":{"x":{"field":"name","type":"nominal","scale":{"type":"point","align":0.41},"axis":null}},
 "layer":[
  {"mark":{"type":"rule","color":"#ff2a00","strokeWidth":7,"strokeCap":"round"},
   "encoding":{"y":{"field":"value","type":"quantitative","scale":{"domain":[-0.126,1.0995],"nice":false},"axis":{"orient":"right","title":null,"values":[0,0.1,0.2,0.3,0.4,0.5,0.6,0.7,0.8,0.9,1],"format":".2f","offset":-40,"tickSize":15,"labelPadding":1,"labelOverlap":false,"tickColor":{"condition":{"test":"datum.value == 0 || datum.value == 0.5 || datum.value == 1","value":"#a8a8a8"},"value":"#3a3a3a"},"tickWidth":{"condition":{"test":"datum.value == 0 || datum.value == 0.5 || datum.value == 1","value":1.5},"value":1}}}}},
  {"transform":[{"fold":["max","min"],"as":["kind","level"]}],
   "mark":{"type":"tick","opacity":1,"size":18,"thickness":2.5,"xOffset":-12},
   "encoding":{"y":{"field":"level","type":"quantitative","axis":{"orient":"right","title":null,"values":[0,0.1,0.2,0.3,0.4,0.5,0.6,0.7,0.8,0.9,1],"format":".2f","offset":-40,"tickSize":15,"labelPadding":1,"labelOverlap":false,"tickColor":{"condition":{"test":"datum.value == 0 || datum.value == 0.5 || datum.value == 1","value":"#a8a8a8"},"value":"#3a3a3a"},"tickWidth":{"condition":{"test":"datum.value == 0 || datum.value == 0.5 || datum.value == 1","value":1.5},"value":1}}},
    "color":{"field":"kind","type":"nominal","scale":{"domain":["max","min"],"range":["#ff2a00","#2a45e6"]},"legend":null}}},
  {"mark":{"type":"text","fontSize":10},"encoding":{"y":{"datum":-0.062,"axis":{"orient":"right","title":null,"values":[0,0.1,0.2,0.3,0.4,0.5,0.6,0.7,0.8,0.9,1],"format":".2f","offset":-40,"tickSize":15,"labelPadding":1,"labelOverlap":false,"tickColor":{"condition":{"test":"datum.value == 0 || datum.value == 0.5 || datum.value == 1","value":"#a8a8a8"},"value":"#3a3a3a"},"tickWidth":{"condition":{"test":"datum.value == 0 || datum.value == 0.5 || datum.value == 1","value":1.5},"value":1}}},"text":{"field":"value","type":"quantitative","format":".2f"}}},
  {"mark":{"type":"text","fontSize":9.3,"angle":270,"align":"left","baseline":"bottom","xOffset":-22.9,"yOffset":8.7},"encoding":{"y":{"datum":0,"axis":{"orient":"right","title":null,"values":[0,0.1,0.2,0.3,0.4,0.5,0.6,0.7,0.8,0.9,1],"format":".2f","offset":-40,"tickSize":15,"labelPadding":1,"labelOverlap":false,"tickColor":{"condition":{"test":"datum.value == 0 || datum.value == 0.5 || datum.value == 1","value":"#a8a8a8"},"value":"#3a3a3a"},"tickWidth":{"condition":{"test":"datum.value == 0 || datum.value == 0.5 || datum.value == 1","value":1.5},"value":1}}},"text":{"field":"name","type":"nominal"}}}
 ]},
{"width":51,"height":201,
 "view":{"cornerRadius":15,"stroke":"black","strokeWidth":1,"fill":{"gradient":"linear","x1":0,"y1":0,"x2":1,"y2":1,"stops":[{"offset":0,"color":"#fbfaf6"},{"offset":1,"color":"#e8e3d3"}]}},
 "data":{"name":"thermo"},"transform":[{"filter":"datum.name == 'UV Index'"}],
 "encoding":{"x":{"field":"name","type":"nominal","scale":{"type":"point","align":0.41},"axis":null}},
 "layer":[
  {"mark":{"type":"rule","color":"#ff2a00","strokeWidth":6.5,"strokeCap":"round"},
   "encoding":{"y":{"field":"value","type":"quantitative","scale":{"domain":[-1.26,10.995],"nice":false},"axis":{"orient":"right","title":null,"values":[0,1,2,3,4,5,6,7,8,9,10],"format":"d","offset":-40,"tickSize":22,"labelPadding":1,"labelOverlap":false,"tickColor":{"condition":{"test":"datum.value == 0 || datum.value == 5 || datum.value == 10","value":"#a8a8a8"},"value":"#3a3a3a"},"tickWidth":{"condition":{"test":"datum.value == 0 || datum.value == 5 || datum.value == 10","value":1.5},"value":1}}}}},
  {"transform":[{"fold":["max","min"],"as":["kind","level"]}],
   "mark":{"type":"tick","opacity":1,"size":18,"thickness":2.5,"xOffset":-12},
   "encoding":{"y":{"field":"level","type":"quantitative","axis":{"orient":"right","title":null,"values":[0,1,2,3,4,5,6,7,8,9,10],"format":"d","offset":-40,"tickSize":22,"labelPadding":1,"labelOverlap":false,"tickColor":{"condition":{"test":"datum.value == 0 || datum.value == 5 || datum.value == 10","value":"#a8a8a8"},"value":"#3a3a3a"},"tickWidth":{"condition":{"test":"datum.value == 0 || datum.value == 5 || datum.value == 10","value":1.5},"value":1}}},
    "color":{"field":"kind","type":"nominal","scale":{"domain":["max","min"],"range":["#ff2a00","#2a45e6"]},"legend":null}}},
  {"mark":{"type":"text","fontSize":10},"encoding":{"y":{"datum":-0.62,"axis":{"orient":"right","title":null,"values":[0,1,2,3,4,5,6,7,8,9,10],"format":"d","offset":-40,"tickSize":22,"labelPadding":1,"labelOverlap":false,"tickColor":{"condition":{"test":"datum.value == 0 || datum.value == 5 || datum.value == 10","value":"#a8a8a8"},"value":"#3a3a3a"},"tickWidth":{"condition":{"test":"datum.value == 0 || datum.value == 5 || datum.value == 10","value":1.5},"value":1}}},"text":{"field":"value","type":"quantitative","format":".1f"}}},
  {"mark":{"type":"text","fontSize":9.3,"angle":270,"align":"left","baseline":"bottom","xOffset":-22.9,"yOffset":8.7},"encoding":{"y":{"datum":0,"axis":{"orient":"right","title":null,"values":[0,1,2,3,4,5,6,7,8,9,10],"format":"d","offset":-40,"tickSize":22,"labelPadding":1,"labelOverlap":false,"tickColor":{"condition":{"test":"datum.value == 0 || datum.value == 5 || datum.value == 10","value":"#a8a8a8"},"value":"#3a3a3a"},"tickWidth":{"condition":{"test":"datum.value == 0 || datum.value == 5 || datum.value == 10","value":1.5},"value":1}}},"text":{"field":"name","type":"nominal"}}}
 ]}
],"spacing":29,"bounds":"flush"}
],
"datasets":{
 "dials":[{"gauge":"Windrichtung"},{"gauge":"Windgeschwindigkeit"},{"gauge":"Windmenge"},{"gauge":"rel. Luftdruck"},{"gauge":"Wolkenuntergrenze"},{"gauge":"Solarstrahlung"}],
 "scale":[
  {"gauge":"Windrichtung","v":0,"label":"N"},{"gauge":"Windrichtung","v":90,"label":"O"},{"gauge":"Windrichtung","v":180,"label":"S"},{"gauge":"Windrichtung","v":270,"label":"W"},
  {"gauge":"Windgeschwindigkeit","v":0,"label":"0"},{"gauge":"Windgeschwindigkeit","v":12,"label":"12"},{"gauge":"Windgeschwindigkeit","v":24,"label":"24"},{"gauge":"Windgeschwindigkeit","v":36,"label":"36"},{"gauge":"Windgeschwindigkeit","v":48,"label":"48"},
  {"gauge":"Windmenge","v":0,"label":"N"},{"gauge":"Windmenge","v":90,"label":"O"},{"gauge":"Windmenge","v":180,"label":"S"},{"gauge":"Windmenge","v":270,"label":"W"},
  {"gauge":"rel. Luftdruck","v":974,"label":"974"},{"gauge":"rel. Luftdruck","v":987,"label":"987"},{"gauge":"rel. Luftdruck","v":1000,"label":"1000"},{"gauge":"rel. Luftdruck","v":1013,"label":"1013"},{"gauge":"rel. Luftdruck","v":1026,"label":"1026"},
  {"gauge":"Wolkenuntergrenze","v":0,"label":"0"},{"gauge":"Wolkenuntergrenze","v":0.3,"label":"0,3"},{"gauge":"Wolkenuntergrenze","v":0.6,"label":"0,6"},{"gauge":"Wolkenuntergrenze","v":0.9,"label":"0,9"},{"gauge":"Wolkenuntergrenze","v":1.2,"label":"1,2"},
  {"gauge":"Solarstrahlung","v":0,"label":"0"},{"gauge":"Solarstrahlung","v":50,"label":"50"},{"gauge":"Solarstrahlung","v":100,"label":"100"},{"gauge":"Solarstrahlung","v":150,"label":"150"},{"gauge":"Solarstrahlung","v":200,"label":"200"}
 ],
 "needles":[
  {"gauge":"Windrichtung","kind":"aktuell","value":90.0},{"gauge":"Windrichtung","kind":"mittel","value":111.9},
  {"gauge":"Windgeschwindigkeit","kind":"aktuell","value":8.6},{"gauge":"Windgeschwindigkeit","kind":"mittel","value":6.3},
  {"gauge":"rel. Luftdruck","kind":"aktuell","value":1025.0},{"gauge":"rel. Luftdruck","kind":"mittel","value":1024.5},{"gauge":"rel. Luftdruck","kind":"mittel","value":1026.6},
  {"gauge":"Wolkenuntergrenze","kind":"aktuell","value":1.029},{"gauge":"Wolkenuntergrenze","kind":"mittel","value":0.13},{"gauge":"Wolkenuntergrenze","kind":"mittel","value":1.029},
  {"gauge":"Solarstrahlung","kind":"aktuell","value":0},{"gauge":"Solarstrahlung","kind":"mittel","value":0}
 ],
 "windrose":[
  {"dir":330,"amount":28},{"dir":342,"amount":31},{"dir":352,"amount":26},{"dir":5,"amount":31},{"dir":15,"amount":28},{"dir":30,"amount":36},{"dir":43,"amount":49},{"dir":60,"amount":33},{"dir":75,"amount":30},{"dir":88,"amount":36},{"dir":100,"amount":44},{"dir":111,"amount":82},{"dir":118,"amount":56},{"dir":126,"amount":66},{"dir":134,"amount":75}
 ],
 "readouts":[
  {"gauge":"Windrichtung","line":1,"text":"90,0"},{"gauge":"Windrichtung","line":2,"text":"111,9"},
  {"gauge":"Windgeschwindigkeit","line":1,"text":"8,6"},{"gauge":"Windgeschwindigkeit","line":2,"text":"6,3"},{"gauge":"Windgeschwindigkeit","line":3,"text":"9"},{"gauge":"Windgeschwindigkeit","line":4,"text":"7"},
  {"gauge":"Windmenge","line":3,"text":"3,2"},{"gauge":"Windmenge","line":4,"text":"0,5"},
  {"gauge":"rel. Luftdruck","line":1,"text":"1025,00"},{"gauge":"rel. Luftdruck","line":2,"text":"0,00"},
  {"gauge":"Wolkenuntergrenze","line":1,"text":"1029"},{"gauge":"Wolkenuntergrenze","line":2,"text":"130"},{"gauge":"Wolkenuntergrenze","line":3,"text":"1029"},
  {"gauge":"Solarstrahlung","line":1,"text":"0"},{"gauge":"Solarstrahlung","line":2,"text":"0"},{"gauge":"Solarstrahlung","line":3,"text":"0"}
 ],
 "thermo":[
  {"name":"Aussentemperatur","value":18.7,"max":18.3,"min":6.4},
  {"name":"Taupunkt","value":10.3,"max":10.0,"min":4.5},
  {"name":"Windkühle","value":18.7,"max":18.3,"min":6.4},
  {"name":"Hitzeindex","value":18.7,"max":18.3,"min":6.4},
  {"name":"Luftfeuchtigkeit aussen","value":58.0,"max":91,"min":56.5},
  {"name":"Innentemperatur","value":23.5,"max":24.0,"min":22.4},
  {"name":"Luftfeuchtigkeit innen","value":33.0,"max":33.6,"min":32.6},
  {"name":"Niederschlag/Stunde","value":0,"max":0,"min":0},
  {"name":"Niederschlag/Tag","value":0,"max":0,"min":0},
  {"name":"UV Index","value":3.0,"max":3.0,"min":0}
 ]
},
"config":{
 "font":"Liberation Sans",
 "title":{"fontSize":10,"fontWeight":"normal","offset":5,"color":"black","font":"Liberation Sans"},
 "text":{"color":"black","font":"Liberation Sans"},
 "axis":{"titleFontWeight":"normal","titleFontSize":9.3,"titleColor":"black","titleFont":"Liberation Sans","labelFont":"Liberation Sans","labelFontSize":10,"labelColor":"black","grid":false,"domain":false},
 "locale":{"number":{"decimal":",","thousands":".","grouping":[3],"currency":["","\u00a0€"]}}
}
}
